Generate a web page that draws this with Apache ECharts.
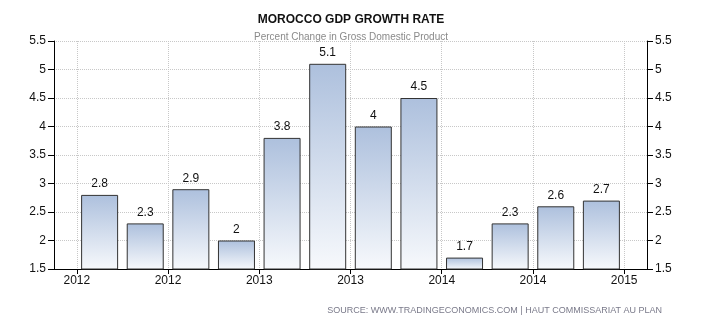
<!DOCTYPE html>
<html>
<head>
<meta charset="utf-8">
<script src="https://cdn.jsdelivr.net/npm/echarts@6/dist/echarts.min.js"></script>
<style>
  html, body { margin: 0; padding: 0; background: #fff; }
  #chart { width: 702px; height: 325px; }
</style>
</head>
<body>
<div id="chart"></div>
<script>
// Quarterly GDP growth, Q1 2012 – Q4 2014 (percent)
const quarters = ['Q1 2012', 'Q2 2012', 'Q3 2012', 'Q4 2012',
                  'Q1 2013', 'Q2 2013', 'Q3 2013', 'Q4 2013',
                  'Q1 2014', 'Q2 2014', 'Q3 2014', 'Q4 2014'];
const growth = [2.8, 2.3, 2.9, 2, 3.8, 5.1, 4, 4.5, 1.7, 2.3, 2.6, 2.7];
const yearTicks = ['2012', '2012', '2013', '2013', '2014', '2014', '2015'];
const yTicks = { min: 1.5, max: 5.5, step: 0.5 };

// Bar axis: one empty slot each side so bars sit a full step from the edges
const barCats = [''].concat(quarters, ['']);
const barData = [null].concat(growth, [null]);

// Tick axis: half-step slots; year ticks fall between bars
const halfSlots = [];
for (let i = 0; i <= barCats.length * 2 - 2; i++) halfSlots.push('');
yearTicks.forEach((y, k) => { halfSlots[1 + k * 4] = y; });
const isYearSlot = (idx) => idx % 4 === 1;

const font = 'Liberation Sans, Arial, sans-serif';
const chart = echarts.init(document.getElementById('chart'));

const yAxisBase = {
  type: 'value',
  min: yTicks.min, max: yTicks.max, interval: yTicks.step,
  axisLine: { show: true, lineStyle: { color: '#000', width: 1 } },
  axisTick: { show: true, length: 6, lineStyle: { color: '#000' } },
  axisLabel: { color: '#111', fontSize: 12, fontFamily: font, margin: 8 },
};

chart.setOption({
  animation: false,
  title: {
    text: 'MOROCCO GDP GROWTH RATE',
    subtext: 'Percent Change in Gross Domestic Product',
    left: 'center', top: 9, itemGap: 6,
    textStyle: { fontSize: 12, fontWeight: 'bold', color: '#111', fontFamily: font },
    subtextStyle: { fontSize: 10, color: '#8a8a8a', fontFamily: font }
  },
  graphic: [{
    type: 'text', right: 40, top: 306,
    style: {
      text: 'SOURCE: WWW.TRADINGECONOMICS.COM | HAUT COMMISSARIAT AU PLAN',
      fontSize: 9, fill: '#7a7a8a', fontFamily: font
    }
  }],
  grid: { left: 54, right: 55, top: 41, bottom: 56 },
  xAxis: [{
    type: 'category', data: barCats, boundaryGap: false,
    axisLine: { show: false }, axisTick: { show: false },
    axisLabel: { show: false }, splitLine: { show: false }
  }, {
    type: 'category', data: halfSlots, boundaryGap: false, position: 'bottom',
    axisLine: { show: true, lineStyle: { color: '#000', width: 1 } },
    axisTick: { show: true, length: 5, interval: isYearSlot, lineStyle: { color: '#000' } },
    axisLabel: { show: true, interval: isYearSlot, color: '#111', fontSize: 12, fontFamily: font, margin: 6 },
    splitLine: { show: true, interval: isYearSlot, lineStyle: { color: '#c8c8c8', type: 'dotted' } }
  }],
  yAxis: [
    Object.assign({}, yAxisBase, {
      position: 'left',
      splitLine: { show: true, lineStyle: { color: '#c8c8c8', type: 'dotted' } }
    }),
    Object.assign({}, yAxisBase, { position: 'right', splitLine: { show: false } })
  ],
  series: [{
    type: 'bar', xAxisIndex: 0, yAxisIndex: 0,
    data: barData, barWidth: 37,
    itemStyle: {
      color: new echarts.graphic.LinearGradient(0, 0, 0, 1, [
        { offset: 0, color: '#adc0dd' },
        { offset: 1, color: '#f7f9fc' }
      ]),
      borderColor: '#333', borderWidth: 1
    },
    label: {
      show: true, position: 'top', distance: 5,
      color: '#111', fontSize: 12, fontFamily: font
    }
  }]
});
</script>
</body>
</html>
